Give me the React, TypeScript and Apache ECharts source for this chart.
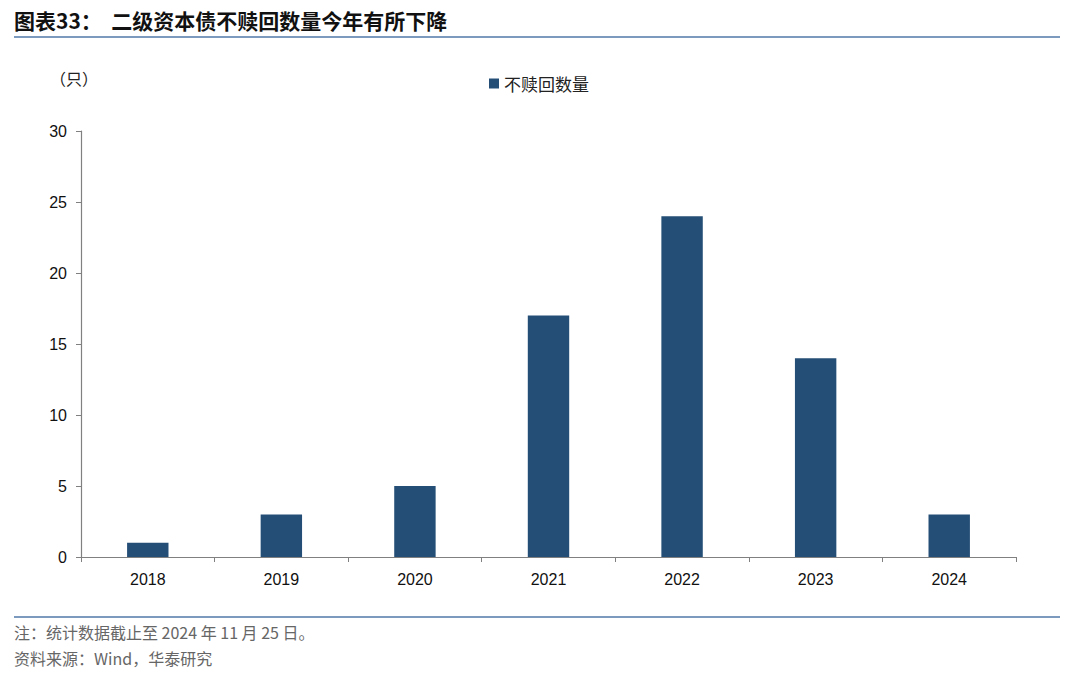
import React, { useEffect, useRef } from "react";
import * as echarts from "echarts";

const years = ["2018", "2019", "2020", "2021", "2022", "2023", "2024"];
const notCalled = [1, 3, 5, 17, 24, 14, 3];
const seriesName = "不赎回数量";

const App: React.FC = () => {
  const chartRef = useRef<HTMLDivElement>(null);

  useEffect(() => {
    const chart = echarts.init(chartRef.current!, undefined, { renderer: "svg" });
    const cjk = "'Noto Sans CJK SC', 'Liberation Sans', sans-serif";
    const num = "'Liberation Sans', Arial, sans-serif";

    const option = {
      animation: false,
      backgroundColor: "#fff",
      textStyle: { fontFamily: cjk },
      legend: {
        data: [{ name: seriesName, icon: "rect" }],
        left: 484,
        top: 70,
        itemWidth: 10,
        itemHeight: 10,
        itemGap: 4,
        textStyle: { fontSize: 17, color: "#222", fontFamily: cjk },
      },
      grid: { left: 81, right: 64, top: 131, bottom: 120 },
      xAxis: {
        type: "category",
        data: years,
        axisLine: { lineStyle: { color: "#808080", width: 1.2 } },
        axisTick: { show: true, length: 5, lineStyle: { color: "#808080" } },
        axisLabel: { fontSize: 16, color: "#111", fontFamily: num, margin: 14 },
      },
      yAxis: {
        type: "value",
        min: 0,
        max: 30,
        interval: 5,
        splitLine: { show: false },
        axisLine: { show: true, lineStyle: { color: "#808080", width: 1.2 } },
        axisTick: { show: true, length: 5, lineStyle: { color: "#808080" } },
        axisLabel: { fontSize: 16, color: "#111", fontFamily: num, margin: 14 },
      },
      series: [
        {
          name: seriesName,
          type: "bar",
          data: notCalled,
          barWidth: "31%",
          itemStyle: { color: "#244E76" },
        },
      ],
      graphic: [
        {
          type: "text",
          left: 14,
          top: 9,
          style: {
            text: "图表33：  二级资本债不赎回数量今年有所下降",
            fontSize: 21,
            fontWeight: "bold",
            fill: "#111",
            fontFamily: cjk,
          },
        },
        {
          type: "line",
          shape: { x1: 14, y1: 37, x2: 1060, y2: 37 },
          style: { stroke: "#4F78A8", lineWidth: 1.5 },
        },
        {
          type: "text",
          left: 50,
          top: 70,
          style: { text: "（只）", fontSize: 16, fill: "#222", fontFamily: cjk },
        },
        {
          type: "line",
          shape: { x1: 14, y1: 617, x2: 1060, y2: 617 },
          style: { stroke: "#4F78A8", lineWidth: 1.5 },
        },
        {
          type: "text",
          left: 14,
          top: 624,
          style: {
            text: "注：统计数据截止至 2024 年 11 月 25 日。",
            fontSize: 16,
            fill: "#666",
            fontFamily: cjk,
          },
        },
        {
          type: "text",
          left: 14,
          top: 650,
          style: {
            text: "资料来源：Wind，华泰研究",
            fontSize: 16,
            fill: "#666",
            fontFamily: cjk,
          },
        },
      ],
    };

    chart.setOption(option);
    return () => {
      chart.dispose();
    };
  }, []);

  return (
    <div
      ref={chartRef}
      style={{ position: "fixed", left: 0, top: 0, width: 1080, height: 677 }}
    ></div>
  );
};

export default App;
